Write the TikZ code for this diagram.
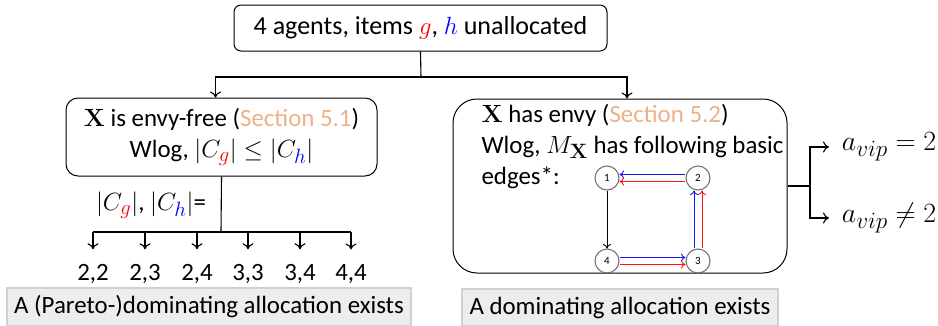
\documentclass[tikz,border=0pt]{standalone}
\usepackage[no-math]{fontspec}
\setmainfont{Carlito}
\usetikzlibrary{arrows.meta}
\definecolor{secorange}{RGB}{238,176,136}
\definecolor{boxgray}{RGB}{237,237,237}
\definecolor{eblue}{RGB}{20,20,250}
\definecolor{ered}{RGB}{250,20,20}
\newcommand{\sect}[1]{\textcolor{secorange}{Section #1}}
\newcommand{\bodyfont}{\fontsize{24.88pt}{31pt}\selectfont}
\tikzset{
  roundbox/.style={draw,line width=1pt,rounded corners=#1,inner sep=0pt,align=center},
  resultbox/.style={draw=black!18,fill=boxgray,inner sep=0pt},
  gnode/.style={circle,draw=black!55,minimum size=24pt,inner sep=0pt,font=\fontsize{11pt}{13pt}\selectfont},
  gedge/.style={-{To[length=4.5pt,width=8pt]},line width=0.9pt},
  num/.style={anchor=base,inner ysep=14pt,inner xsep=0pt},
  vip/.style={anchor=west,inner xsep=11pt,scale=1.12},
}
\begin{document}
\begin{tikzpicture}[x=1pt,y=-1pt,line width=1.1pt,>={To[length=6pt,width=11pt]},
  every node/.append style={font=\bodyfont}]
\useasboundingbox (0,0) rectangle (938,325);
% top box and first split
\node[roundbox=7pt,minimum width=373pt,minimum height=46pt,font=\fontsize{26pt}{31pt}\selectfont] (top) at (420.5,28)
  {4 agents, items $\color{red}g$, $\color{blue}h$ unallocated};
\node[roundbox=12pt,minimum width=311pt,minimum height=78pt] (lbox) at (221.5,137)
  {$\mathbf{X}$ is envy-free (\sect{5.1})\\ Wlog, $\bigl|C_{\color{red}g}\bigr|\le|C_{\color{blue}h}|$};
\node[roundbox=24pt,minimum width=334pt,minimum height=174pt] (rbox) at (620,186) {};
\coordinate (tj) at (421,77);
\draw (top.south) -- (tj);
\draw[->] (tj) -| ([xshift=-6pt]lbox.north);
\draw[->] (tj) -| ([xshift=7pt]rbox.north);
% envy-free branch
\node (cnt) at (151,205) {$|C_{\color{red}g}|$, $|C_{\color{blue}h}|$=};
\coordinate (lj) at (221,232);
\draw (lbox.south) -- (lj);
\node[num] (n1) at (93,280) {2,2};
\node[num] (n2) at (145,280) {2,3};
\node[num] (n3) at (197,280) {2,4};
\node[num] (n4) at (248,280) {3,3};
\node[num] (n5) at (300,280) {3,4};
\node[num] (n6) at (351,280) {4,4};
\draw (n1 |- lj) -- (n6 |- lj);
\foreach \i in {1,...,6}
  \draw[->] (n\i |- lj) -- (n\i.north);
% envy branch
\node[anchor=base west,inner sep=0pt] (r1) at (481,122) {$\mathbf{X}$ has envy (\sect{5.2})};
\node[anchor=base west,inner sep=0pt] (r2) at (481,153) {Wlog, $M_{\mathbf{X}}$ has following basic};
\node[anchor=base west,inner sep=0pt] (r3) at (481,184) {edges*:};
\node[gnode] (v1) at (607,178) {1};
\node[gnode] (v2) at (698,178) {2};
\node[gnode] (v3) at (698,261) {3};
\node[gnode] (v4) at (607,261) {4};
\draw[gedge,eblue] ([yshift=3.5pt]v2.west) -- ([yshift=3.5pt]v1.east);
\draw[gedge,ered] ([yshift=-3.5pt]v2.west) -- ([yshift=-3.5pt]v1.east);
\draw[gedge] (v1) -- (v4);
\draw[gedge,eblue] ([xshift=-4pt]v3.north) -- ([xshift=-4pt]v2.south);
\draw[gedge,ered] ([xshift=4pt]v3.north) -- ([xshift=4pt]v2.south);
\draw[gedge,eblue] ([yshift=3.5pt]v4.east) -- ([yshift=3.5pt]v3.west);
\draw[gedge,ered] ([yshift=-3.5pt]v4.east) -- ([yshift=-3.5pt]v3.west);
\coordinate (rj) at (810,186);
\draw (rbox.east) -- (rj);
\node[vip] (av1) at (829,147) {$a_{vip}=2$};
\node[vip] (av2) at (829,218) {$a_{vip}\ne2$};
\draw[->] (rj) |- (av1.west);
\draw[->] (rj) |- (av2.west);
% results
\node[resultbox,minimum width=404pt,minimum height=38pt] (res1) at (209,307)
  {A (Pareto-)dominating allocation exists};
\node[resultbox,minimum width=316pt,minimum height=37pt] (res2) at (620,307.5)
  {A dominating allocation exists};
\end{tikzpicture}
\end{document}
